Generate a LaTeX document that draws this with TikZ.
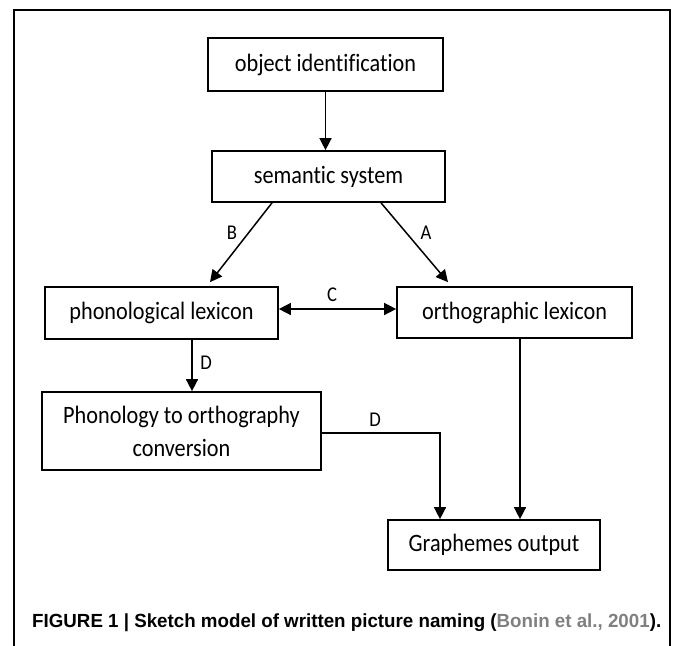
\documentclass[tikz,border=0pt]{standalone}
\usepackage{fontspec}
\setmainfont{Carlito}[Ligatures=NoCommon]
\newfontfamily\capfont{Liberation Sans}
\usetikzlibrary{arrows.meta,calc}
\newcommand\narrowtext[1]{\scalebox{0.89}[1]{#1}}
\begin{document}
\begin{tikzpicture}[x=1pt,y=-1pt,
  stagebox/.style={draw, line width=1.7pt, rectangle, inner sep=0pt, align=center,
    font=\fontsize{25}{33}\selectfont},
  conn/.style={line width=1.5pt, -{Triangle[length=12pt,width=12pt]}},
  lbl/.style={font=\fontsize{21}{25}\selectfont, inner sep=0pt}]
\useasboundingbox (0,0) rectangle (674,645);
% outer frame (open at the bottom)
\draw[line width=2.7pt] (14,646) -- (14,10) -- (670,10) -- (670,646);

\node[stagebox, minimum width=235pt, minimum height=53pt] (obj) at (325.5,64.5) {\narrowtext{object identification}};
\node[stagebox, minimum width=233pt, minimum height=51pt] (sem) at (328.5,176.5) {\narrowtext{semantic system}};
\node[stagebox, minimum width=233pt, minimum height=52pt] (phon) at (161.5,313) {\narrowtext{phonological lexicon}};
\node[stagebox, minimum width=235pt, minimum height=51pt] (orth) at (514.5,312.5) {\narrowtext{orthographic lexicon}};
\node[stagebox, minimum width=279pt, minimum height=78pt] (conv) at (181.5,431) {\narrowtext{Phonology to orthography}\\\narrowtext{conversion}};
\node[stagebox, minimum width=212pt, minimum height=50pt] (graph) at (494,545) {\narrowtext{Graphemes output}};

\draw[conn] (obj.south) -- (obj.south |- sem.north);
\draw[conn] ([xshift=-56.5pt]sem.south) -- ([xshift=48.5pt,yshift=4pt]phon.north);
\draw[conn] ([xshift=52.5pt]sem.south) -- ([xshift=-66.5pt,yshift=4pt]orth.north);
\draw[conn, {Triangle[length=12pt,width=12pt]}-{Triangle[length=12pt,width=12pt]}] ([yshift=4pt]phon.east) -- ([yshift=4pt]phon.east -| orth.west);
\draw[conn] ([xshift=30.5pt]phon.south) -- ([xshift=30.5pt]phon.south |- conv.north);
\draw[conn] ([yshift=-2pt]conv.east) -| ([xshift=-54pt]graph.north);
\draw[conn] ([xshift=5.5pt]orth.south) -- ([xshift=5.5pt]orth.south |- graph.north);

\node[lbl] (lB) at (232,233) {\narrowtext{B}};
\node[lbl] (lA) at (426,233) {\narrowtext{A}};
\node[lbl] (lC) at (332,295) {\narrowtext{C}};
\node[lbl] (lD1) at (206,363) {\narrowtext{D}};
\node[lbl] (lD2) at (375,420) {\narrowtext{D}};

\node[anchor=west, inner sep=0pt] (cap) at (32,623) {\resizebox{629pt}{\height}{\capfont\bfseries\fontsize{19}{22}\selectfont FIGURE 1 | Sketch model of written picture naming (\textcolor{black!50}{Bonin et al., 2001}).}};
\end{tikzpicture}
\end{document}
